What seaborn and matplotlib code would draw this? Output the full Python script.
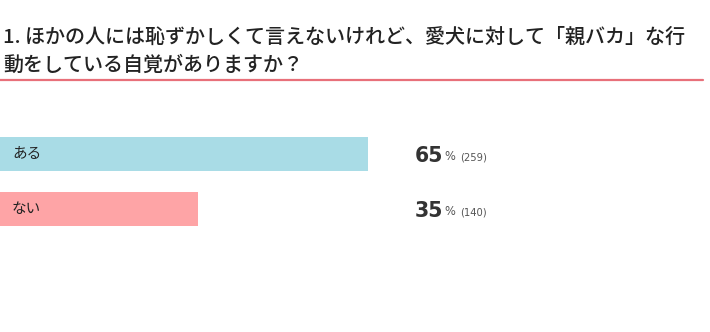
import matplotlib
matplotlib.use("Agg")
import matplotlib.pyplot as plt
import matplotlib.transforms as mtransforms
import seaborn as sns
import pandas as pd

categories = ["ある", "ない"]
percents = [65, 35]
counts = [259, 140]
bar_colors = ["#a9dce6", "#fea4a6"]
title_lines = ["1. ほかの人には恥ずかしくて言えないけれど、愛犬に対して「親バカ」な行",
               "動をしている自覚がありますか？"]

sns.set_theme(style="white")
plt.rcParams['font.family'] = ['Noto Sans CJK JP', 'DejaVu Sans']

W, H = 710, 332
fig = plt.figure(figsize=(W / 100, H / 100), dpi=100)
ax = fig.add_axes([0, 0, 1, 1])

df = pd.DataFrame({"cat": categories, "pct": percents})
sns.barplot(data=df, y="cat", x="pct", hue="cat", palette=bar_colors,
            orient="h", width=34 / 55, legend=False, ax=ax, saturation=1,
            linewidth=0)

# pixel mapping: 100% -> 566 px ; row0 center at 154px, row1 at 209px
ax.set_xlim(0, 100 * W / 566)
ax.set_ylim(1 + (H - 209) / 55, -154 / 55)
ax.axis("off")

blend = mtransforms.blended_transform_factory(ax.transAxes, ax.transData)
for i, (c, p, n) in enumerate(zip(categories, percents, counts)):
    ax.text(12 / W, i + 0.0, c, transform=blend, fontsize=10.5,
            va="center", ha="left", color="#222222")
    t = ax.text(415 / W, i + 0.03, f"{p}", transform=blend, fontsize=14.8,
                fontweight="bold", va="center", ha="left", color="#333333",
                family=['DejaVu Sans'])
    ax.annotate("%", xycoords=t, xy=(1, 0), xytext=(1, 2),
                textcoords="offset points", fontsize=8.3, color="#555555",
                va="bottom", ha="left", family=['DejaVu Sans'])
    ax.annotate(f"({n})", xycoords=t, xy=(1, 0), xytext=(12, 2),
                textcoords="offset points", fontsize=7.2, color="#555555",
                va="bottom", ha="left", family=['DejaVu Sans'])

for k, line in enumerate(title_lines):
    fig.text(3 / W, 1 - (37 + 28 * k) / H, line, fontsize=14.45,
             fontweight="medium", va="center", ha="left", color="#222222")
fig.add_artist(plt.Line2D([0, 703 / W], [1 - 80 / H, 1 - 80 / H],
                          transform=fig.transFigure, color="#e8707a", lw=1.6))

fig.savefig("out.png", dpi=100, facecolor="white")
